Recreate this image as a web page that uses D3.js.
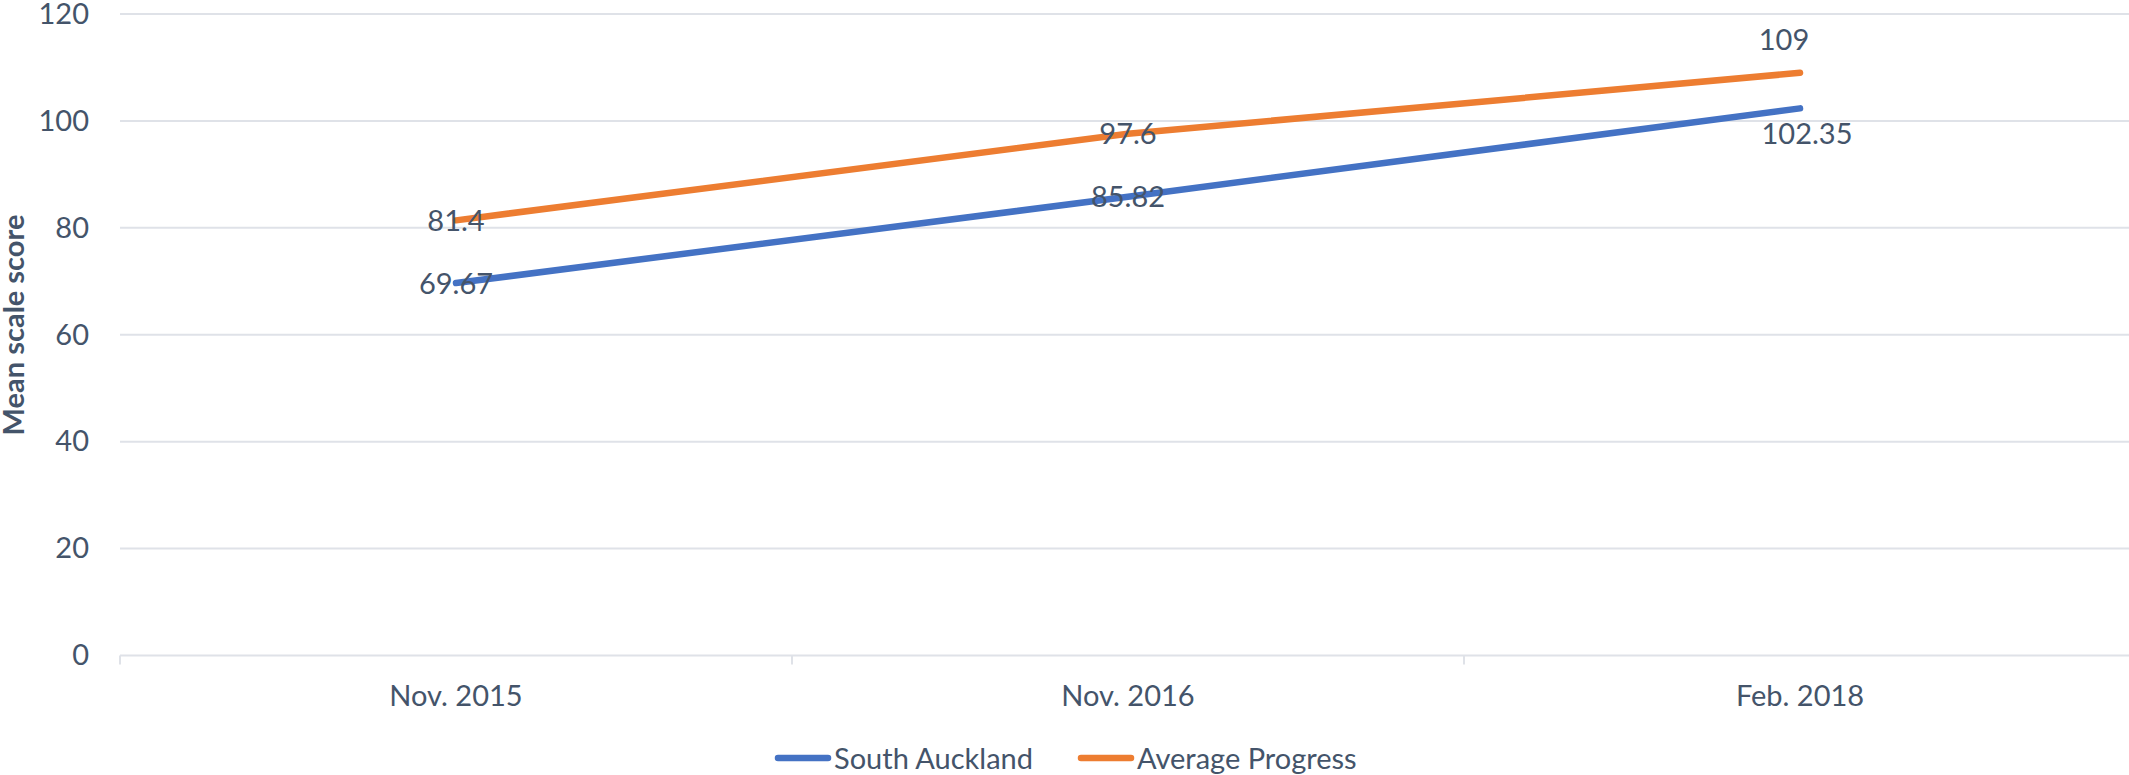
<!DOCTYPE html>
<html>
<head>
<meta charset="utf-8">
<script src="https://cdn.jsdelivr.net/npm/d3@7"></script>
<style>
  html, body { margin: 0; padding: 0; background: #fff; }
  svg text { font-family: Lato, "Open Sans", sans-serif; fill: #44546a; }
</style>
</head>
<body>
<div id="chart"></div>
<script>
const categories = ["Nov. 2015", "Nov. 2016", "Feb. 2018"];
const southAuckland = [69.67, 85.82, 102.35];
const averageProgress = [81.4, 97.6, 109];
const yTicks = [0, 20, 40, 60, 80, 100, 120];
const seriesNames = ["South Auckland", "Average Progress"];

(function () {
  const width = 2129;
  const height = 775;
  const FONT = 29;

  const series = [
    { name: seriesNames[0], values: southAuckland, color: "#4472c4" },
    { name: seriesNames[1], values: averageProgress, color: "#ed7d31" },
  ];

  // Excel moved the last two labels off the points
  const labelNudge = {
    "South Auckland|2": { dx: 7, dy: 36 },
    "Average Progress|2": { dx: -16, dy: -23 },
  };

  const svg = d3.select("#chart").append("svg")
    .attr("width", width)
    .attr("height", height)
    .attr("viewBox", [0, 0, width, height]);

  const xScale = d3.scaleBand().domain(categories).range([120, 2136]);
  const yScale = d3.scaleLinear().domain([0, 120]).range([655.5, 14]);
  const cx = c => xScale(c) + xScale.bandwidth() / 2;

  // gridlines
  svg.append("g")
    .selectAll("line")
    .data(yTicks)
    .join("line")
    .attr("x1", 120)
    .attr("x2", width)
    .attr("y1", d => yScale(d))
    .attr("y2", d => yScale(d))
    .attr("stroke", "#dfe2e8")
    .attr("stroke-width", 2);

  // category boundary ticks
  const bounds = categories.map(c => xScale(c)).concat([xScale.range()[1]]);
  svg.append("g")
    .selectAll("line")
    .data(bounds)
    .join("line")
    .attr("x1", d => d)
    .attr("x2", d => d)
    .attr("y1", yScale(0))
    .attr("y2", yScale(0) + 9)
    .attr("stroke", "#dfe2e8")
    .attr("stroke-width", 2);

  // y axis labels
  const yAxis = svg.append("g")
    .attr("transform", "translate(120,0)")
    .call(d3.axisLeft(yScale).tickValues(yTicks).tickSize(0).tickPadding(31));
  yAxis.select(".domain").remove();
  yAxis.selectAll("text")
    .attr("font-size", FONT)
    .attr("font-family", null)
    .attr("fill", null);

  // x axis labels
  svg.append("g")
    .selectAll("text")
    .data(categories)
    .join("text")
    .attr("x", d => cx(d))
    .attr("y", 706)
    .attr("text-anchor", "middle")
    .attr("font-size", FONT)
    .text(d => d);

  // y title
  svg.append("text")
    .attr("transform", "translate(24,325) rotate(-90)")
    .attr("text-anchor", "middle")
    .attr("font-size", FONT)
    .attr("font-weight", "bold")
    .text("Mean scale score");

  const line = d3.line()
    .x((d, i) => cx(categories[i]))
    .y(d => yScale(d));

  svg.append("g")
    .selectAll("path")
    .data(series)
    .join("path")
    .attr("d", d => line(d.values))
    .attr("fill", "none")
    .attr("stroke", d => d.color)
    .attr("stroke-width", 6.5)
    .attr("stroke-linecap", "round")
    .attr("stroke-linejoin", "round");

  // data labels
  const labels = series.flatMap(s => s.values.map((v, i) => {
    const n = labelNudge[`${s.name}|${i}`] || { dx: 0, dy: 10.5 };
    return { v, x: cx(categories[i]) + n.dx, y: yScale(v) + n.dy };
  }));
  svg.append("g")
    .selectAll("text")
    .data(labels)
    .join("text")
    .attr("x", d => d.x)
    .attr("y", d => d.y)
    .attr("text-anchor", "middle")
    .attr("font-size", FONT)
    .text(d => d.v);

  // legend
  const legendX = [775, 1078];
  const legend = svg.append("g")
    .selectAll("g")
    .data(series)
    .join("g")
    .attr("transform", (d, i) => `translate(${legendX[i]},758)`);
  legend.append("line")
    .attr("x1", 3)
    .attr("x2", 53)
    .attr("stroke", d => d.color)
    .attr("stroke-width", 6.5)
    .attr("stroke-linecap", "round");
  legend.append("text")
    .attr("x", 59)
    .attr("y", 10.5)
    .attr("font-size", FONT)
    .text(d => d.name);
})();
</script>
</body>
</html>
